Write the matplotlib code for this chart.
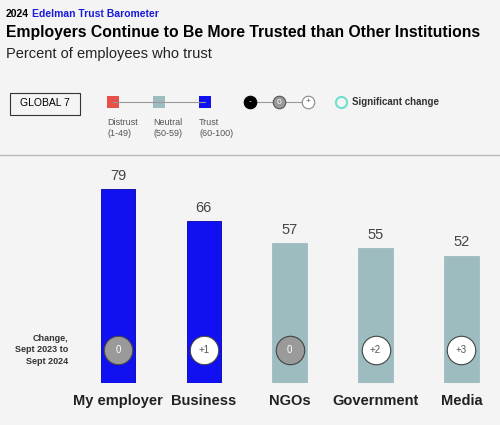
import matplotlib.pyplot as plt
from matplotlib.patches import Rectangle

plt.rcParams['font.family'] = ['Liberation Sans', 'DejaVu Sans']

categories = ['My employer', 'Business', 'NGOs', 'Government', 'Media']
trust = [79, 66, 57, 55, 52]
changes = ['0', '+1', '0', '+2', '+3']

BLUE = '#1010f0'
NEUTRAL = '#9dbcc0'
RED = '#e8504a'
BG = '#f4f4f4'

def bar_color(v):
    if v >= 60:
        return BLUE
    if v >= 50:
        return NEUTRAL
    return RED

fig = plt.figure(figsize=(5, 4.25), dpi=100, facecolor=BG)

# header
fig.text(0.012, 0.968, '2024', fontsize=7.5, fontweight='bold', color='black', va='center')
fig.text(0.064, 0.968, 'Edelman Trust Barometer', fontsize=7.5, fontweight='bold', color='#1a1adc', va='center')
fig.text(0.012, 0.924, 'Employers Continue to Be More Trusted than Other Institutions',
         fontsize=11.3, fontweight='bold', va='center')
fig.text(0.012, 0.872, 'Percent of employees who trust', fontsize=10.5, va='center', color='#222222')

# legend
fig.patches.append(Rectangle((10 / 500, 1 - 115 / 425), 70 / 500, 22 / 425, transform=fig.transFigure,
                             fill=False, edgecolor='#333333', lw=0.8))
fig.text(45 / 500, 1 - 103 / 425, 'GLOBAL 7', fontsize=7.5, ha='center', va='center')
fig.lines.append(plt.Line2D([113 / 500, 205 / 500], [1 - 102 / 425] * 2, transform=fig.transFigure, color='#999999', lw=0.8))
for x, c, lab in [(113, RED, 'Distrust\n(1-49)'), (159, NEUTRAL, 'Neutral\n(50-59)'), (205, BLUE, 'Trust\n(60-100)')]:
    fig.patches.append(Rectangle(((x - 6) / 500, 1 - 108 / 425), 12 / 500, 12 / 425,
                                 transform=fig.transFigure, facecolor=c, edgecolor='none'))
    fig.text((x - 6) / 500, 1 - 128 / 425, lab, fontsize=6.5, color='#555555', va='center', linespacing=1.2)
fig.lines.append(plt.Line2D([250 / 500, 308 / 500], [1 - 102 / 425] * 2, transform=fig.transFigure, color='#999999', lw=0.8))
for x, fc, ec, t, tc in [(250, 'black', 'black', '-', 'white'), (279, '#999999', '#555555', '0', 'white'),
                         (308, 'white', '#888888', '+', '#555555')]:
    fig.lines.append(plt.Line2D([x / 500], [1 - 102 / 425], transform=fig.transFigure, marker='o', ms=9,
                                mfc=fc, mec=ec, mew=0.8, ls='none'))
    fig.text(x / 500, 1 - 102 / 425, t, fontsize=6, color=tc, ha='center', va='center')
fig.lines.append(plt.Line2D([341 / 500], [1 - 102 / 425], transform=fig.transFigure, marker='o', ms=8,
                            mfc='none', mec='#6ee0cc', mew=1.5, ls='none'))
fig.text(352 / 500, 1 - 102 / 425, 'Significant change', fontsize=7, fontweight='bold', color='#333333', va='center')

# separator
fig.lines.append(plt.Line2D([0, 1], [1 - 155 / 425] * 2, transform=fig.transFigure, color='#bbbbbb', lw=1))

# bars
ax = fig.add_axes([75 / 500, 1 - 383 / 425, 425 / 500, 228 / 425])
ax.set_facecolor('none')
x = range(len(categories))
ax.bar(x, trust, width=0.4, color=[bar_color(v) for v in trust],
       edgecolor=['#0000aa' if v >= 60 else NEUTRAL for v in trust], lw=0.6)
for i, v in enumerate(trust):
    ax.text(i, v + 2.5, str(v), ha='center', va='bottom', fontsize=10.5, color='#444444')
    gray = changes[i] == '0'
    ax.scatter(i, 13.5, s=420, color='#9a9a9a' if gray else 'white', edgecolor='#444444', lw=0.8, zorder=3)
    ax.text(i, 13.5, changes[i], ha='center', va='center', fontsize=7,
            color='white' if gray else '#555555', zorder=4)
    ax.text(i, -4.5, categories[i], ha='center', va='top', fontsize=10.5, fontweight='bold', color='#222222')
ax.text(-0.58, 13.5, 'Change,\nSept 2023 to\nSept 2024', ha='right', va='center', fontsize=6.5,
        fontweight='bold', color='#333333', linespacing=1.3)
ax.set_xlim(-0.5, 4.45)
ax.set_ylim(0, 93)
ax.axis('off')

fig.savefig('out.png', dpi=100, facecolor=BG)
